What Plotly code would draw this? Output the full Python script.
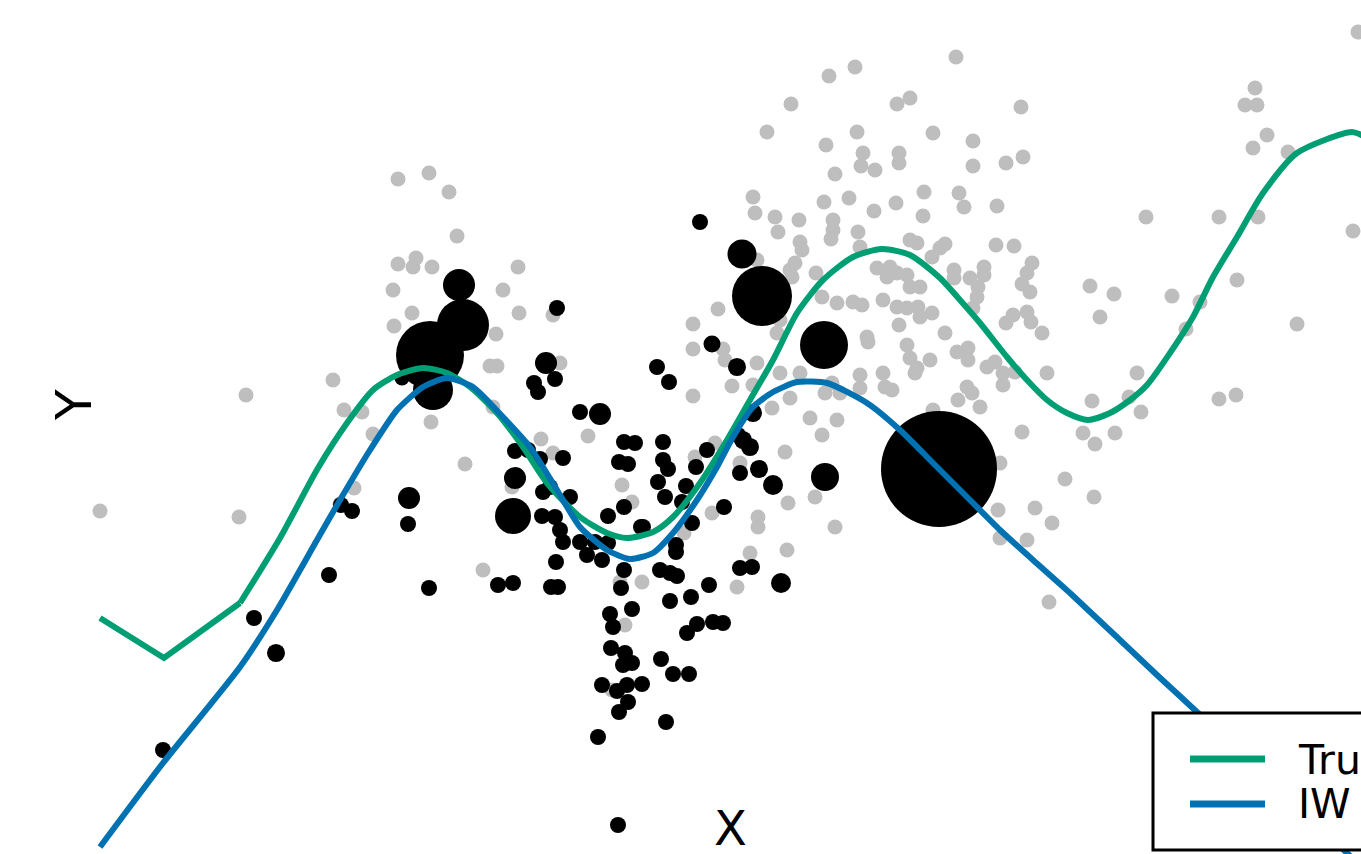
import numpy as np
import plotly.graph_objects as go

W, H = 1361, 854

# Unweighted sample (grey)
gray_x = [1.00, 2.46, 2.39, 3.98, 4.29, 4.49, 4.57, 3.98, 4.16, 4.13, 4.32, 5.18, 3.93, 5.03, 4.12, 5.19,
          3.94, 4.96, 4.90, 4.97, 3.33, 3.44, 3.62, 4.31, 3.73, 4.65, 5.41, 5.53, 4.93, 5.53, 3.54, 5.12,
          3.40, 5.60, 6.93, 7.32, 7.53, 5.88, 6.22, 6.32, 7.12, 6.84, 6.95, 7.15, 7.85, 7.88, 7.58, 7.58,
          7.87, 7.50, 7.37, 6.42, 6.20, 4.83, 6.25, 6.12, 7.80, 8.00, 7.90, 7.72, 7.40,
          9.56, 8.29, 8.55, 7.91, 8.97, 9.10, 7.67, 8.57, 9.33, 8.26, 9.73, 8.63, 8.61, 8.75, 8.99, 8.99,
          9.73, 10.06, 8.35, 9.24, 9.59, 9.64, 9.97, 7.53, 7.55, 8.24, 8.49, 8.96, 8.74, 9.23, 7.75, 7.99,
          7.78, 8.33, 8.33, 8.31, 8.58, 8.00, 8.02, 8.60, 9.10, 9.17, 9.45, 9.40, 9.32, 9.96, 10.14, 7.95,
          7.90, 7.92, 8.16, 7.57, 8.77, 8.90, 8.97, 9.07, 9.10, 9.20, 8.87, 9.54, 9.54, 9.84, 9.84, 9.78,
          9.70, 9.77, 8.37, 8.53, 8.62, 8.83, 8.97, 9.07, 9.18, 9.32, 9.20, 7.18, 6.93, 6.93, 7.23, 7.80,
          7.77, 8.22, 8.99, 9.45, 8.67, 8.68, 9.07, 9.57, 9.68, 10.06, 7.25, 7.57, 8.25, 8.40, 8.32, 8.60,
          8.60, 8.83, 8.85, 8.92, 9.10, 9.15, 9.17, 9.30, 9.68, 9.87, 9.95, 10.03, 10.03, 9.67, 9.72, 9.80,
          9.58, 10.47, 10.42, 8.10, 8.37, 8.22, 10.22, 9.33, 10.00, 10.65, 8.15, 8.35, 9.98, 10.35, 10.52,
          10.00, 10.27, 10.49, 10.21, 10.23, 10.32, 10.27, 10.22, 10.30, 9.73, 10.13, 10.27, 10.31, 10.15,
          11.46, 12.19, 12.58, 13.53, 12.55, 12.45, 12.57, 12.67, 12.53, 12.88, 10.90, 11.14, 11.00, 11.72,
          12.00, 11.86, 12.37, 12.97, 11.37, 11.29, 11.41, 10.92, 12.19, 12.36, 10.83, 10.95, 11.15, 13.58,
          10.94]
gray_y = [3.43, 4.59, 3.37, 6.75, 6.81, 6.62, 6.18, 5.90, 5.96, 5.87, 5.87, 5.87, 5.64, 5.64, 5.41, 5.41,
          5.28, 5.20, 4.88, 4.88, 4.74, 4.44, 4.42, 4.32, 4.20, 3.90, 4.15, 4.01, 4.47, 5.39, 3.66, 3.67,
          3.50, 4.91, 4.58, 4.68, 4.69, 4.18, 3.69, 3.52, 3.41, 3.21, 3.97, 4.11, 4.02, 3.51, 3.37, 3.27,
          3.04, 3.01, 2.67, 2.72, 2.72, 2.84, 2.29, 1.64, 4.81, 4.81, 4.56, 4.46, 3.91,
          7.97, 7.78, 7.87, 7.50, 7.50, 7.56, 7.22, 7.22, 7.21, 7.09, 7.13, 7.01, 6.88, 6.84, 7.01, 6.91,
          6.88, 6.91, 6.80, 6.62, 6.61, 6.47, 6.48, 6.57, 6.41, 6.52, 6.56, 6.51, 6.43, 6.38, 6.37, 6.34,
          6.22, 6.34, 6.24, 6.15, 6.22, 6.12, 6.04, 6.07, 6.14, 6.11, 6.10, 6.06, 5.97, 6.09, 6.08, 5.91,
          5.84, 5.77, 5.81, 5.94, 5.86, 5.87, 5.81, 5.79, 5.67, 5.67, 5.77, 5.84, 5.76, 5.87, 5.79, 5.67,
          5.76, 5.57, 5.51, 5.52, 5.49, 5.54, 5.47, 5.46, 5.47, 5.41, 5.37, 5.45, 5.30, 5.05, 5.05, 5.34,
          5.21, 5.57, 5.29, 5.21, 5.17, 5.12, 5.09, 5.02, 5.06, 5.31, 4.94, 4.91, 4.61, 4.61, 4.71, 4.79,
          4.66, 4.81, 4.67, 4.64, 4.96, 4.81, 4.86, 4.94, 4.94, 4.87, 4.92, 4.81, 4.69, 4.67, 4.61, 4.47,
          4.54, 4.81, 5.21, 4.36, 4.34, 4.19, 4.22, 4.44, 3.91, 3.75, 3.57, 3.27, 3.44, 3.46, 3.31,
          3.16, 3.14, 2.52, 7.47, 6.97, 5.91, 5.81, 5.70, 5.62, 5.46, 5.39, 5.42, 5.32, 4.82,
          6.37, 6.37, 6.37, 6.23, 7.66, 7.49, 7.49, 7.19, 7.06, 7.02, 5.68, 5.60, 5.37, 5.58,
          5.52, 5.25, 5.74, 5.30, 4.81, 4.57, 4.42, 4.53, 4.55, 4.59, 4.21, 4.10, 4.21, 8.22,
          3.57]

# Importance-weighted sample (black), marker area grows with weight
black_x = [1.63, 2.54, 2.76, 3.29, 3.41, 3.52, 4.09, 4.08, 4.29, 4.59, 4.63, 4.30, 4.33, 4.02, 5.57, 5.46,
           5.55, 5.34, 5.38, 5.15, 5.28, 5.40, 5.63, 5.15, 5.13, 5.42, 5.55, 5.43, 5.50, 5.70, 5.60, 5.63,
           5.80, 5.87, 6.02, 5.95, 6.08, 5.80, 6.00, 6.24, 6.35, 6.63, 6.19, 6.28, 6.63, 6.68, 6.57, 6.69,
           6.58, 6.65, 6.86, 6.96, 7.07, 7.38, 7.43, 7.50, 7.40, 7.59, 7.73, 7.24, 6.24, 6.08, 6.41, 6.76,
           6.76, 6.92, 5.56, 4.98, 5.13, 5.51, 5.58, 6.24, 6.21, 6.60, 6.70, 6.77, 7.09, 6.70, 6.91, 6.32,
           6.10, 6.13, 6.87, 6.97, 7.13, 7.23, 7.40, 7.52, 7.81, 6.11, 6.25, 6.32, 6.23, 6.61, 6.73, 6.89,
           6.02, 6.17, 6.27, 6.42, 6.28, 6.19, 6.66, 5.98, 6.18, 7.37, 7.12, 7.00, 7.42, 7.62, 8.24, 7.53,
           8.25, 9.39, 6.82, 6.43]
black_y = [1.04, 2.36, 2.01, 2.79, 3.49, 3.43, 3.56, 3.30, 2.66, 5.69, 5.29, 4.99, 4.64, 4.76, 5.46, 4.91,
           4.75, 4.71, 4.62, 4.03, 4.04, 3.95, 3.96, 3.76, 3.38, 3.38, 3.37, 3.62, 3.67, 3.57, 3.24, 3.12,
           3.12, 2.99, 2.94, 3.12, 3.11, 4.42, 4.40, 4.12, 4.11, 4.12, 3.92, 3.90, 3.94, 3.85, 4.87, 4.72,
           3.72, 3.57, 3.68, 3.87, 4.04, 4.19, 4.14, 4.07, 3.81, 3.85, 3.69, 3.47, 3.47, 3.38, 3.27, 3.09,
           3.02, 3.31, 2.92, 2.69, 2.71, 2.67, 2.67, 2.84, 2.66, 2.84, 2.81, 2.78, 2.69, 2.53, 2.57, 2.45,
           2.40, 2.27, 2.21, 2.30, 2.32, 2.31, 2.86, 2.87, 2.71, 2.06, 2.01, 1.91, 1.89, 1.95, 1.80, 1.80,
           1.69, 1.63, 1.69, 1.70, 1.52, 1.42, 1.32, 1.17, 0.29, 4.87, 5.10, 6.32, 6.00, 5.58, 5.09, 4.41,
           3.77, 3.85, 3.52, 3.27]
black_w = [1, 1, 1.27, 1, 1, 1, 1.89, 1, 1, 4, 10.56, 18.06, 6.25, 0.88, 1, 1.89,
           1, 1, 1, 1, 1, 1, 1, 1.89, 5.06, 1, 1, 1, 1, 1, 1, 1,
           1, 1, 1, 1, 1, 1, 1.89, 1, 1, 1, 1, 1, 1, 1, 1, 1,
           1, 1, 1, 1, 1, 1, 1.27, 1.27, 1, 1.27, 1.56, 1, 1, 1, 1, 1,
           1, 1, 1, 1, 1, 1, 1, 1, 1, 1, 1, 1, 1, 1, 1, 1,
           1, 1, 1, 1, 1, 1, 1, 1, 1.56, 1, 1, 1, 1, 1, 1, 1,
           1, 1, 1, 1, 1, 1, 1, 1, 1, 1.27, 1.13, 1, 3.29, 14.06, 9, 1.27,
           3.06, 52.56, 1, 1]

# True regression function
true_x = [1.00, 1.64, 2.40, 2.80, 3.18, 3.47, 3.73, 3.97, 4.23, 4.47, 4.70, 4.97, 5.23, 5.47,
          5.80, 6.07, 6.27, 6.53, 6.73, 7.00, 7.27, 7.50, 7.73, 7.97, 8.23, 8.53, 8.82, 9.10, 9.40,
          9.60, 9.80, 10.07, 10.27, 10.47, 10.67, 10.88, 11.10, 11.30, 11.47, 11.70, 11.93, 12.13,
          12.37, 12.63, 12.97, 13.52, 13.65]
true_y = [2.36, 1.96, 2.51, 3.16, 3.86, 4.31, 4.64, 4.79, 4.86, 4.81, 4.67, 4.41, 4.07, 3.71,
          3.37, 3.21, 3.16, 3.22, 3.37, 3.71, 4.14, 4.54, 4.94, 5.41, 5.74, 5.97, 6.05, 5.99, 5.76,
          5.54, 5.31, 4.97, 4.74, 4.54, 4.41, 4.34, 4.41, 4.54, 4.69, 5.01, 5.37, 5.77,
          6.17, 6.61, 7.01, 7.22, 7.17]
# the first samples are joined by straight segments, the rest is drawn smooth
N_STRAIGHT = 3

# Importance-weighted fit
iw_x = [1.00, 1.63, 2.40, 2.77, 3.17, 3.40, 3.70, 3.97, 4.23, 4.47, 4.73, 5.03, 5.30, 5.57, 5.80,
        6.07, 6.30, 6.53, 6.73, 6.97, 7.17, 7.33, 7.53, 7.73, 7.97, 8.27, 8.67, 9.00, 9.33, 9.67,
        10.00, 10.33, 10.70, 11.57, 11.97, 12.70, 13.47, 14.00]
iw_y = [0.07, 0.91, 1.87, 2.44, 3.14, 3.54, 4.04, 4.44, 4.67, 4.76, 4.67, 4.37, 4.07, 3.64, 3.27,
        3.04, 2.95, 3.01, 3.21, 3.54, 3.87, 4.17, 4.47, 4.62, 4.72, 4.71, 4.51, 4.24, 3.91, 3.57,
        3.24, 2.94, 2.61, 1.79, 1.42, 0.73, 0.01, -0.50]

legend_labels = ["True", "IW"]

GREEN = "#009E73"
BLUE = "#0072B2"
GREY = "#BEBEBE"
FONT = "DejaVu Sans"

fig = go.Figure()
fig.add_trace(go.Scatter(x=gray_x, y=gray_y, mode="markers", showlegend=False,
                         marker=dict(color=GREY, size=15, line=dict(width=0))))
fig.add_trace(go.Scatter(x=black_x, y=black_y, mode="markers", showlegend=False,
                         marker=dict(color="black", size=16 * np.sqrt(np.array(black_w)),
                                     line=dict(width=0), opacity=1)))
fig.add_trace(go.Scatter(x=true_x[:N_STRAIGHT], y=true_y[:N_STRAIGHT], mode="lines",
                         name=legend_labels[0], showlegend=False,
                         line=dict(color=GREEN, width=6)))
fig.add_trace(go.Scatter(x=true_x[N_STRAIGHT - 1:], y=true_y[N_STRAIGHT - 1:], mode="lines",
                         name=legend_labels[0], showlegend=False,
                         line=dict(color=GREEN, width=6, shape="spline", smoothing=0.7)))
fig.add_trace(go.Scatter(x=iw_x, y=iw_y, mode="lines", name=legend_labels[1], showlegend=False,
                         line=dict(color=BLUE, width=6, shape="spline", smoothing=0.6)))


def px(v):
    return v / W


def py(v):
    return 1 - v / H


shapes = [
    dict(type="rect", xref="paper", yref="paper", x0=px(1153), x1=px(1500), y0=py(850), y1=py(713),
         line=dict(color="black", width=3), fillcolor="white", layer="above"),
    dict(type="line", xref="paper", yref="paper", x0=px(1190), x1=px(1265), y0=py(759), y1=py(759),
         line=dict(color=GREEN, width=7), layer="above"),
    dict(type="line", xref="paper", yref="paper", x0=px(1190), x1=px(1265), y0=py(804), y1=py(804),
         line=dict(color=BLUE, width=7), layer="above"),
]
annotations = [
    dict(text=legend_labels[0], xref="paper", yref="paper", x=px(1296), y=py(760), xanchor="left",
         yanchor="middle", showarrow=False, font=dict(family=FONT, size=41, color="black")),
    dict(text=legend_labels[1], xref="paper", yref="paper", x=px(1296), y=py(804), xanchor="left",
         yanchor="middle", showarrow=False, font=dict(family=FONT, size=41, color="black")),
    dict(text="X", xref="paper", yref="paper", x=px(730), y=py(828), xanchor="center",
         yanchor="middle", showarrow=False, font=dict(family=FONT, size=48, color="black")),
    dict(text="Y", xref="paper", yref="paper", x=px(74), y=py(405), xanchor="center",
         yanchor="middle", showarrow=False, textangle=-90, font=dict(family=FONT, size=50, color="black")),
]

fig.update_layout(
    width=W, height=H,
    margin=dict(l=0, r=0, t=0, b=0),
    paper_bgcolor="white", plot_bgcolor="white",
    xaxis=dict(range=[0, 13.61], visible=False, fixedrange=True),
    yaxis=dict(range=[0, 8.54], visible=False, fixedrange=True),
    shapes=shapes, annotations=annotations,
    showlegend=False,
)

fig.write_html("out.html")
